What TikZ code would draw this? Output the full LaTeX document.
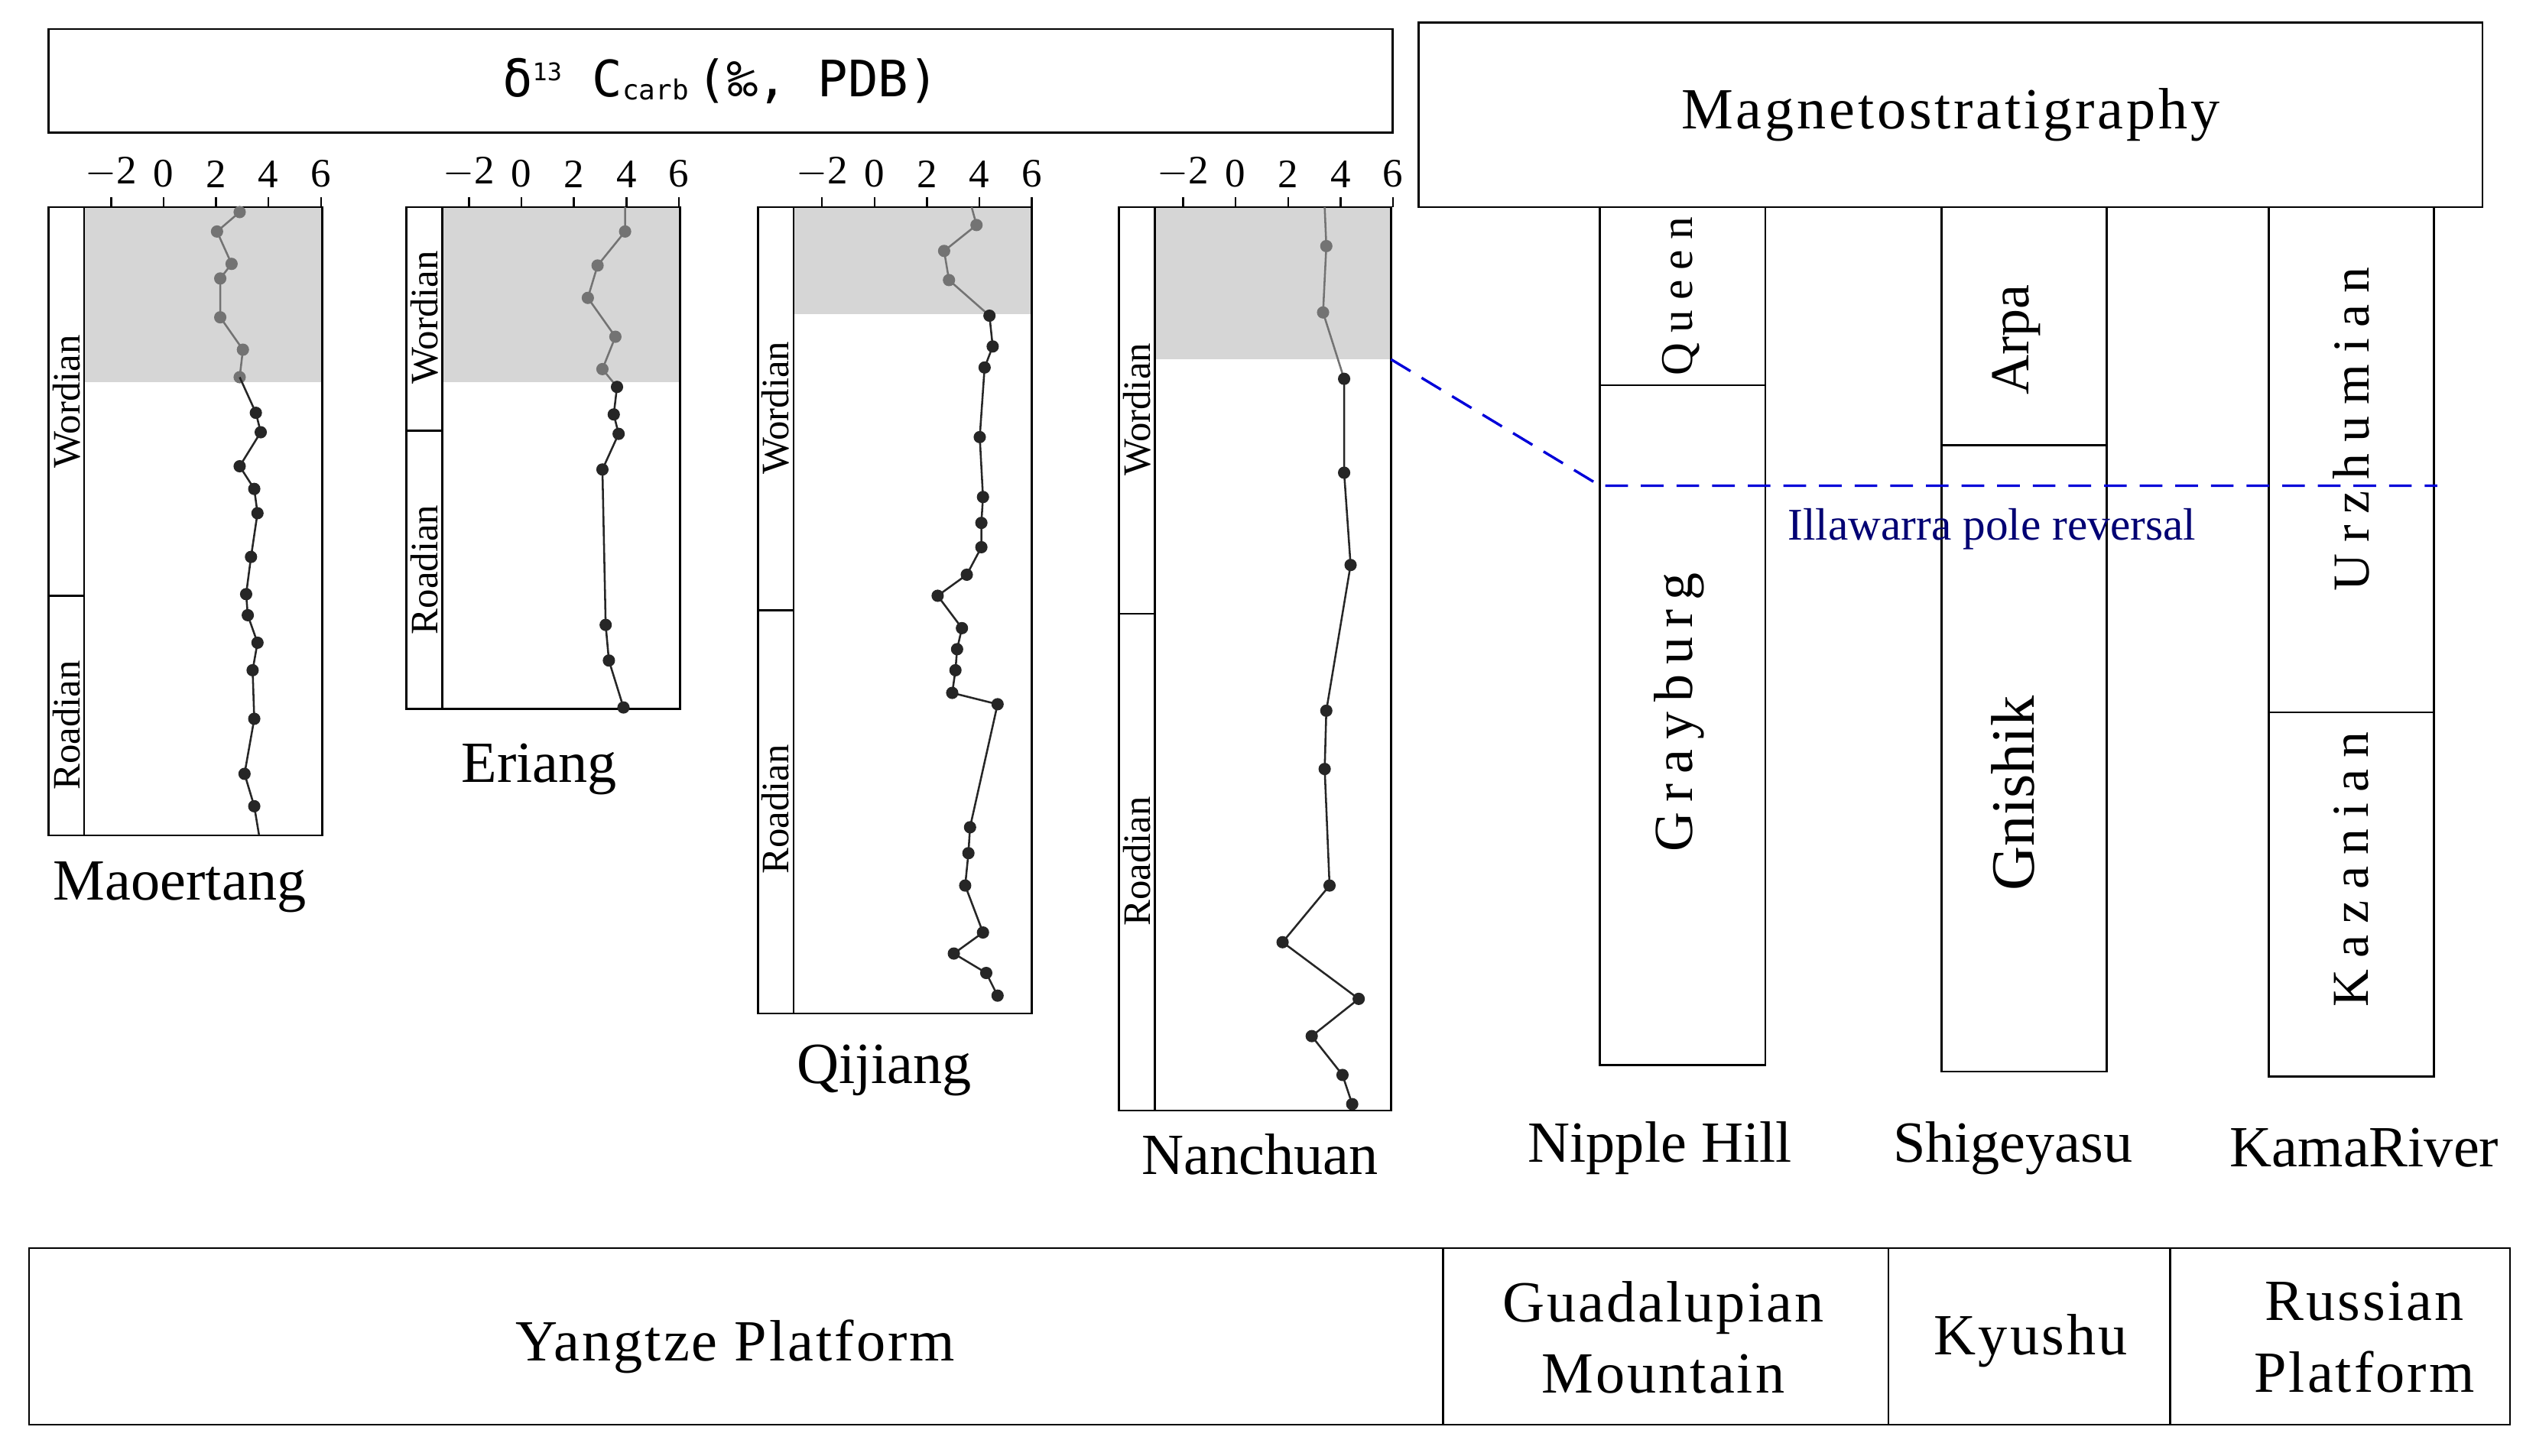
\documentclass[tikz,border=0pt]{standalone}
\usepackage{fontspec}
\setmainfont{Liberation Serif}
\newfontfamily\titlefont{DejaVu Sans Mono}
\begin{document}
\begin{tikzpicture}[x=1pt,y=-1pt,
  frame/.style={draw,line width=1.2pt},
  gline/.style={draw=black!55,line width=1.2pt},
  bline/.style={draw=black!85,line width=1.2pt},
  gdot/.style={fill=black!55},
  bdot/.style={fill=black!85},
  stage/.style={rotate=90,font=\fontsize{24}{24}\selectfont},
  site/.style={font=\fontsize{36}{36}\selectfont},
  ticklab/.style={font=\fontsize{25}{25}\selectfont,anchor=south},
  mag/.style={rotate=90,font=\fontsize{30}{30}\selectfont}]
\useasboundingbox (0,0) rectangle (1566,899);
\fill[white] (0,0) rectangle (1566,899);
% title boxes
\node[frame,minimum width=830,minimum height=64,inner sep=0] (title) at (445,50)
 {\titlefont\fontsize{31}{31}\selectfont δ\raisebox{10pt}{\fontsize{15}{15}\selectfont 13} C\raisebox{-2pt}{\fontsize{17}{17}\selectfont carb}\,(‰, PDB)};
\node[frame,minimum width=657,minimum height=114,inner sep=0,font=\fontsize{36}{36}\selectfont\addfontfeature{LetterSpace=5}] (magtitle) at (1204.5,71) {Magnetostratigraphy};
% column macro
\newcommand{\mycol}[8]{%
  \fill[black!16] (#2,#4) rectangle (#3,#6);
  \draw[frame] (#1,#4) rectangle (#2,#5);
  \draw[frame] (#2,#4) -- (#3,#4) -- (#3,#5) -- (#2,#5);
  \draw[frame] (#1,#7) -- (#2,#7);
  \foreach \v/\l in {-2/$-$2,0/0,2/2,4/4,6/6}{
    \draw[line width=1.2pt] ({#8+16.2*\v},#4) -- ++(0,-6);
    \node[ticklab,inner sep=1pt] at ({#8+16.2*\v},#4-11) {\l};}
}
% Maoertang
\mycol{30}{52}{199}{128}{516}{236}{368}{101}
\node[stage] (m1) at (41,248) {Wordian};
\node[stage] (m2) at (41,448) {Roadian};
\draw[gline] (148,128)--(148,131)--(134,143)--(143,163)--(136,172)--(136,196)--(150,216)--(148,233);
\foreach \p in {(148,131),(134,143),(143,163),(136,172),(136,196),(150,216),(148,233)} \fill[gdot] \p circle (3.8);
\draw[bline] (148,233)--(158,255)--(161,267)--(148,288)--(157,302)--(159,317)--(155,344)--(152,367)--(153,380)--(159,397)--(156,414)--(157,444)--(151,478)--(157,498)--(160,516);
\foreach \p in {(158,255),(161,267),(148,288),(157,302),(159,317),(155,344),(152,367),(153,380),(159,397),(156,414),(157,444),(151,478),(157,498)} \fill[bdot] \p circle (3.8);
\node[site] (maoertang) at (111,548) {Maoertang};
% Eriang
\mycol{251}{273}{420}{128}{438}{236}{266}{322}
\node[stage] (e1) at (262,196) {Wordian};
\node[stage] (e2) at (262,352) {Roadian};
\draw[gline] (386,128)--(386,143)--(369,164)--(363,184)--(380,208)--(372,228)--(381,239);
\foreach \p in {(386,143),(369,164),(363,184),(380,208),(372,228)} \fill[gdot] \p circle (3.8);
\draw[bline] (381,239)--(379,256)--(382,268)--(372,290)--(374,386)--(376,408)--(385,437);
\foreach \p in {(381,239),(379,256),(382,268),(372,290),(374,386),(376,408),(385,437)} \fill[bdot] \p circle (3.8);
\node[site] (eriang) at (333,475) {Eriang};
% Qijiang
\mycol{468}{490}{637}{128}{626}{194}{377}{540}
\node[stage] (q1) at (479,252) {Wordian};
\node[stage] (q2) at (479,500) {Roadian};
\draw[gline] (600,128)--(603,139)--(583,155)--(586,173)--(611,195);
\foreach \p in {(603,139),(583,155),(586,173)} \fill[gdot] \p circle (3.8);
\draw[bline] (611,195)--(613,214)--(608,227)--(605,270)--(607,307)--(606,323)--(606,338)--(597,355)--(579,368)--(594,388)--(591,401)--(590,414)--(588,428)--(616,435)--(599,511)--(598,527)--(596,547)--(607,576)--(589,589)--(609,601)--(616,615);
\foreach \p in {(611,195),(613,214),(608,227),(605,270),(607,307),(606,323),(606,338),(597,355),(579,368),(594,388),(591,401),(590,414),(588,428),(616,435),(599,511),(598,527),(596,547),(607,576),(589,589),(609,601),(616,615)} \fill[bdot] \p circle (3.8);
\node[site] (qijiang) at (546,661) {Qijiang};
% Nanchuan
\mycol{691}{713}{859}{128}{686}{222}{379}{763}
\node[stage] (n1) at (702,253) {Wordian};
\node[stage] (n2) at (702,532) {Roadian};
\draw[gline] (818,128)--(819,152)--(817,193)--(830,234);
\foreach \p in {(819,152),(817,193)} \fill[gdot] \p circle (3.8);
\draw[bline] (830,234)--(830,292)--(834,349)--(819,439)--(818,475)--(821,547)--(792,582)--(839,617)--(810,640)--(829,664)--(835,682);
\foreach \p in {(830,234),(830,292),(834,349),(819,439),(818,475),(821,547),(792,582),(839,617),(810,640),(829,664),(835,682)} \fill[bdot] \p circle (3.8);
\node[site] (nanchuan) at (778,713) {Nanchuan};
% magnetostratigraphy columns
\draw[frame] (988,128) rectangle (1090,658); \draw[frame] (988,238)--(1090,238);
\node[mag,font=\fontsize{28}{28}\selectfont\addfontfeature{LetterSpace=22}] (queen) at (1038,183) {Queen};
\node[mag,font=\fontsize{34}{34}\selectfont\addfontfeature{LetterSpace=18}] (grayburg) at (1037,440) {Grayburg};
\node[site] (nipple) at (1025,709) {Nipple Hill};
\draw[frame] (1199,128) rectangle (1301,662); \draw[frame] (1199,275)--(1301,275);
\node[mag,font=\fontsize{34}{34}\selectfont] (arpa) at (1245,210) {Arpa};
\node[mag,font=\fontsize{38}{38}\selectfont] (gnishik) at (1243,490) {Gnishik};
\node[site] (shige) at (1243,709) {Shigeyasu};
\draw[frame] (1401,128) rectangle (1503,665); \draw[frame] (1401,440)--(1503,440);
\node[mag,font=\fontsize{32}{32}\selectfont\addfontfeature{LetterSpace=22}] (urz) at (1452,265) {Urzhumian};
\node[mag,font=\fontsize{32}{32}\selectfont\addfontfeature{LetterSpace=22}] (kaz) at (1452,537) {Kazanian};
\node[site] (kama) at (1460,709) {KamaRiver};
% Illawarra reversal
\coordinate (d0) at (859,222); \coordinate (d1) at (988,300); \coordinate (d2) at (1505,300);
\draw[blue!85!black,line width=1.6pt,dash pattern=on 14pt off 8pt] (d0)--(d1)--(d2);
\node[text=blue!45!black,font=\fontsize{28}{28}\selectfont] (illa) at (1230,327) {Illawarra pole reversal};
% bottom table
\draw[frame] (18,771) rectangle (1550,880);
\draw[frame] (891,771)--(891,880) (1166,771)--(1166,880) (1340,771)--(1340,880);
\node[site,font=\fontsize{36}{44}\selectfont\addfontfeature{LetterSpace=4}] (yz) at (454,832) {Yangtze Platform};
\node[site,align=center,font=\fontsize{36}{44}\selectfont\addfontfeature{LetterSpace=4}] (gm) at (1027,826) {Guadalupian\\Mountain};
\node[site,font=\fontsize{36}{44}\selectfont\addfontfeature{LetterSpace=4}] (ky) at (1254,828) {Kyushu};
\node[site,align=center,font=\fontsize{36}{44}\selectfont\addfontfeature{LetterSpace=4}] (rp) at (1460,826) {Russian\\Platform};
\end{tikzpicture}
\end{document}
